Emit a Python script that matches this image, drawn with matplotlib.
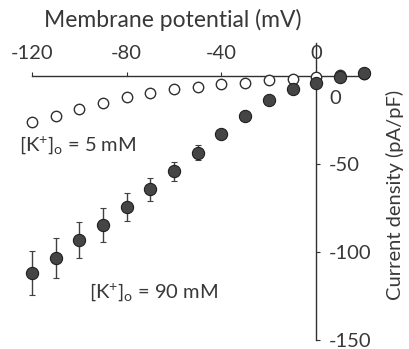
import matplotlib
matplotlib.use("Agg")
import matplotlib.pyplot as plt
import numpy as np

# membrane potential steps (mV)
voltage = [-120, -110, -100, -90, -80, -70, -60, -50, -40, -30, -20, -10, 0, 10, 20]

# [K+]o = 5 mM (open circles)
i_5mm = [-26, -22.7, -18.8, -15.3, -12, -9.7, -7.4, -6.2, -4.5, -4, -2.3, -1.7, -0.5, 0.3, 1]

# [K+]o = 90 mM (filled circles) with SEM
i_90mm = [-111.7, -103.5, -93.2, -84.7, -74.5, -64.3, -54, -43.6, -33, -22.5,
          -13.6, -7.4, -4, -0.8, 1.5]
sem_90mm = [12.5, 11.5, 10, 9.4, 8, 6.6, 5.4, 4.4, 2, 1, 0.8, 0.5, 0.5, 0.3, 0.3]

x_ticks = [-120, -80, -40, 0]
y_ticks = [-150, -100, -50, 0]

plt.rcParams['font.family'] = ['Lato', 'DejaVu Sans']
plt.rcParams['mathtext.fontset'] = 'custom'
plt.rcParams['mathtext.rm'] = 'Lato'
plt.rcParams['mathtext.it'] = 'Lato:italic'

txt = '#383838'
ax_col = '#303030'

fig = plt.figure(figsize=(4.09, 3.49), dpi=100)
ax = fig.add_axes([0.078, 0.026, 0.817, 0.852])

ax.plot(voltage, i_5mm, 'o', ms=7.5, mfc='white', mec=ax_col, mew=1.0,
        clip_on=False, zorder=3)
ax.errorbar(voltage, i_90mm, yerr=sem_90mm, fmt='o', ms=8.8, mfc='#454545',
            mec='#202020', mew=0.8, ecolor='#404040', elinewidth=1.0,
            capsize=2.5, capthick=1.0, clip_on=False, zorder=4)

ax.set_xlim(-120, 21)
ax.set_ylim(-150, 19)

for s in ['left', 'bottom']:
    ax.spines[s].set_visible(False)
ax.spines['top'].set_position(('data', 0))
ax.spines['right'].set_position(('data', 0))
for s in ['top', 'right']:
    ax.spines[s].set_color(ax_col)
    ax.spines[s].set_linewidth(1.0)

ax.xaxis.tick_top()
ax.yaxis.tick_right()
ax.set_xticks(x_ticks)
ax.set_xticklabels([str(v) for v in x_ticks])
ax.set_yticks(y_ticks)
ax.set_yticklabels([str(v) if v != 0 else '' for v in y_ticks])
ax.tick_params(axis='x', direction='out', length=3, width=0.8, colors=ax_col,
               labelcolor=txt, labelsize=14.5, pad=7)
ax.tick_params(axis='y', direction='out', length=3, width=0.8, colors=ax_col,
               labelcolor=txt, labelsize=14.5, pad=6)

ax.text(5.5, -12.5, '0', color=txt, fontsize=14.5, ha='left', va='center')

ax.text(-125.5, -39, r'[K$^{+}$]$_{\rm o}$ = 5 mM', color=txt, fontsize=14.5,
        ha='left', va='center')
ax.text(-96, -123, r'[K$^{+}$]$_{\rm o}$ = 90 mM', color=txt, fontsize=14.5,
        ha='left', va='center')

fig.text(0.423, 0.943, 'Membrane potential (mV)', color=txt, fontsize=16.5,
         ha='center', va='center')
fig.text(0.966, 0.441, 'Current density (pA/pF)', color=txt, fontsize=14.5,
         ha='center', va='center', rotation=90)

fig.savefig('out.png', dpi=100)
